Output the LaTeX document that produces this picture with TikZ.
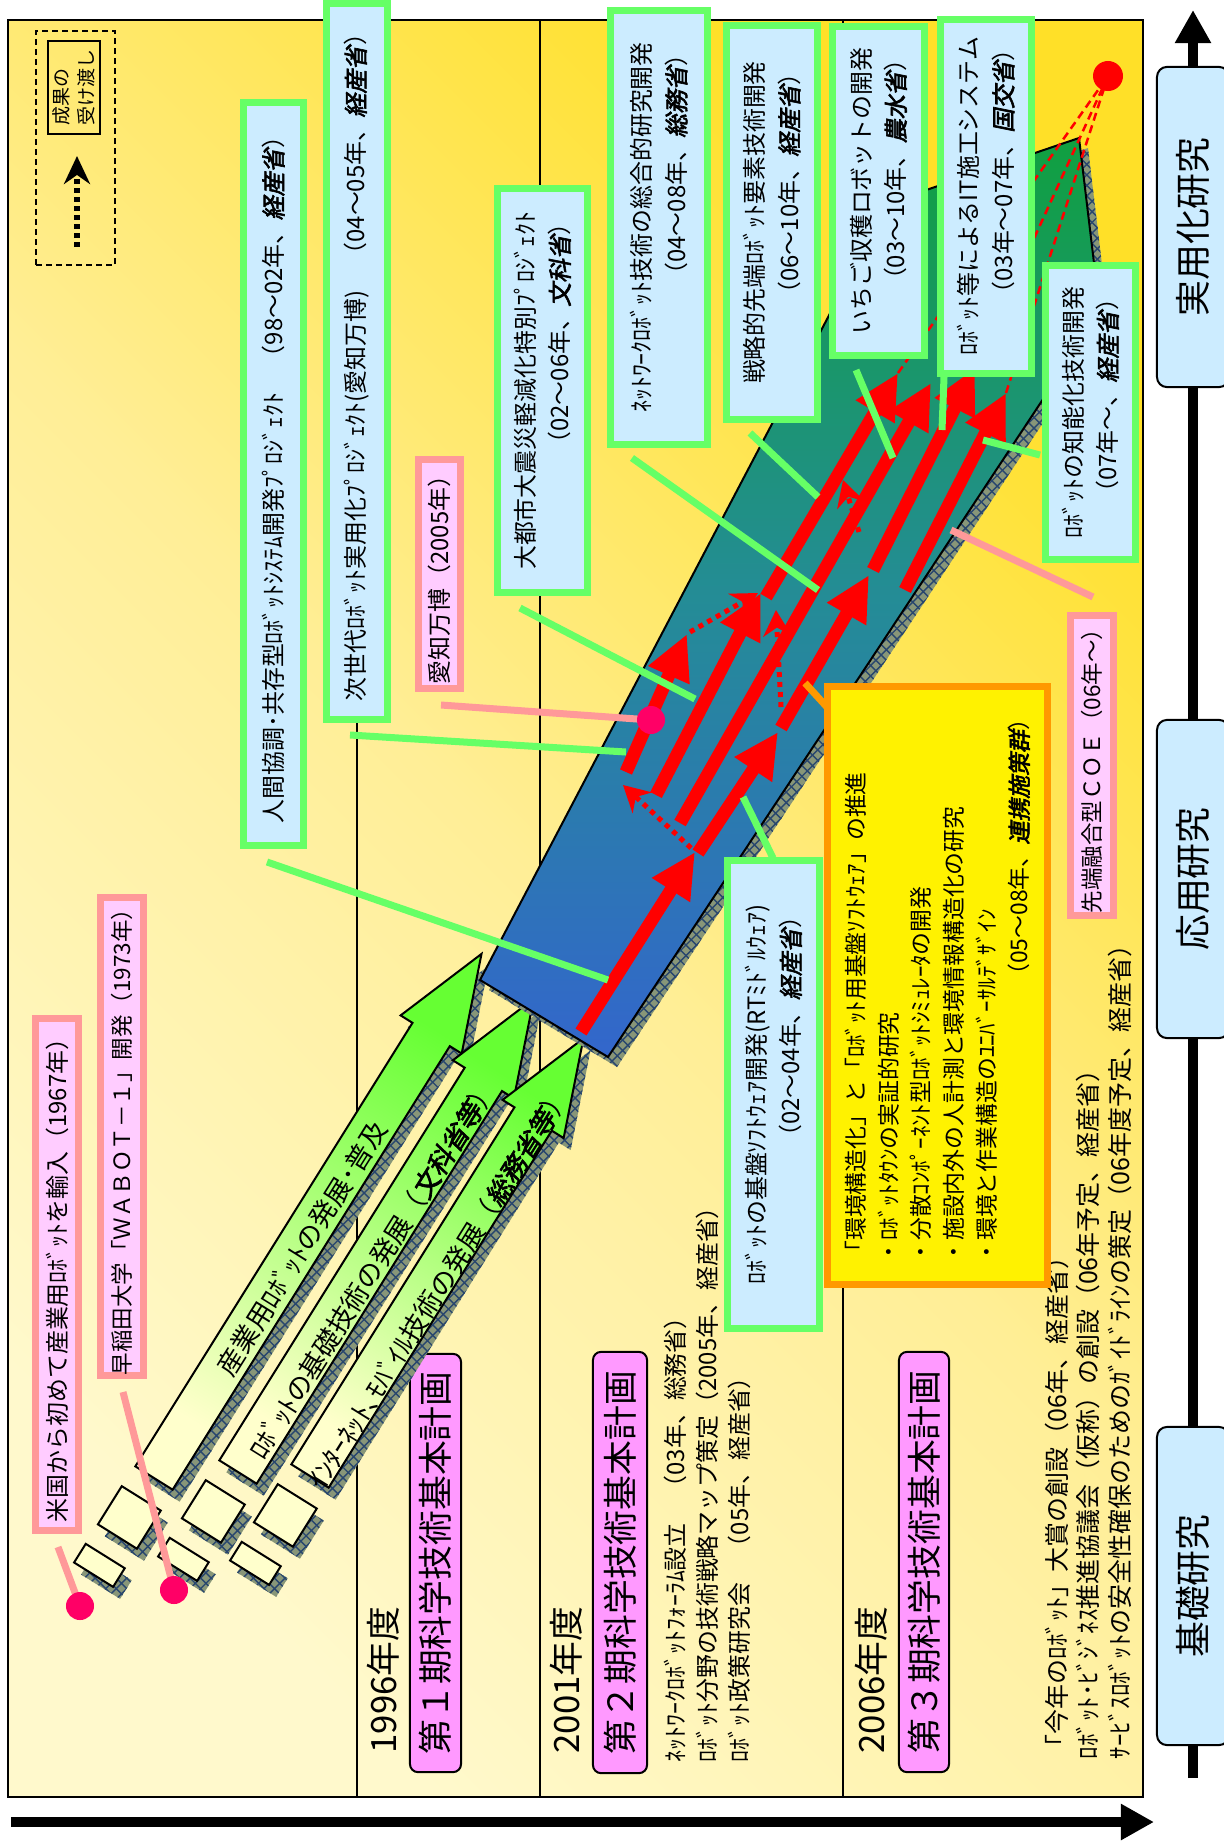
\documentclass[tikz,border=0pt]{standalone}
\usepackage{fontspec}
\setmainfont{Noto Sans CJK JP}
\newfontfamily\ministryfont{Noto Sans CJK JP}[FakeBold=2.5,FakeSlant=0.2]
\usetikzlibrary{arrows.meta,patterns}

\definecolor{boxgreen}{RGB}{102,255,102}
\definecolor{boxblue}{RGB}{204,236,255}
\definecolor{pinkfill}{RGB}{255,204,255}
\definecolor{pinkedge}{RGB}{255,153,153}
\definecolor{planpink}{RGB}{255,153,255}
\definecolor{dotred}{RGB}{255,0,102}
\definecolor{orangeedge}{RGB}{255,153,0}
\definecolor{bgcream}{RGB}{255,249,204}
\definecolor{bgmid}{RGB}{255,238,150}
\definecolor{bggold}{RGB}{255,224,40}
\definecolor{bandtop}{RGB}{16,160,64}
\definecolor{bandmid}{RGB}{36,140,150}
\definecolor{bandbot}{RGB}{51,102,204}
\definecolor{arrowtail}{RGB}{255,255,204}
\definecolor{arrowhead}{RGB}{102,255,51}
\definecolor{shadowfill}{RGB}{136,150,120}
\definecolor{shadowline}{RGB}{40,70,110}

\newcommand{\ministry}[1]{{\ministryfont #1}}
\newcommand{\fsbox}{\fontsize{6.8pt}{9.9pt}\selectfont}
\newcommand{\fspink}{\fontsize{6.4pt}{7pt}\selectfont}
\newcommand{\fspinkwide}{\fontsize{6.8pt}{7pt}\selectfont}
\newcommand{\fsorange}{\fontsize{6.5pt}{9.3pt}\selectfont}
\newcommand{\fsnote}{\fontsize{6.8pt}{9.1pt}\selectfont}
\newcommand{\fsnotewide}{\fontsize{7.1pt}{8.9pt}\selectfont}
\newcommand{\fsplan}{\fontsize{9.9pt}{11pt}\selectfont}
\newcommand{\fsstage}{\fontsize{10.2pt}{12pt}\selectfont}
\newcommand{\fsarrow}{\fontsize{7.6pt}{9pt}\selectfont}
\newcommand{\fslegend}{\fontsize{5.4pt}{7.1pt}\selectfont}

\begin{document}
\begin{tikzpicture}[x=0.01cm, y=-0.01cm,
  greenbox/.style={draw=boxgreen, line width=0.07cm, fill=boxblue, rotate=90, inner sep=0pt, align=right, font=\fsbox},
  pinkbox/.style={draw=pinkedge, line width=0.07cm, fill=pinkfill, rotate=90, inner sep=0pt, font=\fspink},
  planbox/.style={draw, line width=0.02cm, fill=planpink, rounded corners=0.08cm, rotate=90, inner sep=0pt, font=\fsplan},
  stagebox/.style={draw, line width=0.02cm, fill=boxblue, rounded corners=0.1cm, rotate=90, inner sep=0pt, font=\fsstage},
  yearlabel/.style={rotate=90, inner sep=0pt, font=\fsplan},
  note/.style={rotate=90, inner sep=0pt, anchor=west, align=left, font=\fsnote},
  arrowlabel/.style={rotate=58, inner sep=0pt, font=\fsarrow},
  pindot/.style={circle, fill=dotred, minimum size=0.28cm, inner sep=0pt},
  greenline/.style={draw=boxgreen, line width=0.07cm},
  pinkline/.style={draw=pinkedge, line width=0.07cm},
  orangeline/.style={draw=orangeedge, line width=0.07cm},
  redarrow/.style={draw=red, line width=0.13cm, -{Triangle[length=0.45cm,width=0.42cm]}},
  reddots/.style={draw=red, line width=0.05cm, dash pattern=on 0.05cm off 0.05cm, -{Stealth[length=0.26cm,width=0.28cm]}},
  reddash/.style={draw=red, line width=0.025cm, dash pattern=on 0.08cm off 0.05cm},
  hatch/.style={fill=shadowfill, postaction={pattern=crosshatch, pattern color=shadowline}},
  paper/.style={fill=arrowtail, draw, line width=0.02cm},
  axisarrow/.style={line width=0.10cm, -{Triangle[length=0.33cm,width=0.34cm]}}]
\useasboundingbox (0,0) rectangle (1223,1842);

% 背景と年度の区切り
\path[draw, line width=0.02cm, bottom color=bgcream, top color=bggold, middle color=bgmid, shading angle=-45] (8,20) rectangle (1143,1797);
\foreach \yx in {357,540,843}
  \draw[line width=0.02cm] (\yx,20) -- (\yx,1797);

% 凡例
\node[draw, dash pattern=on 0.06cm off 0.04cm, line width=0.02cm, minimum width=0.79cm, minimum height=2.34cm, inner sep=0pt] (legend) at (75.5,148) {};
\node[draw, line width=0.02cm, rotate=90, minimum width=0.93cm, minimum height=0.52cm, align=left, font=\fslegend, inner sep=0pt] (handoff) at (74,87.5) {成果の\\受け渡し};
\coordinate (legtail) at (77,247);
\coordinate (leghead) at (77,156);
\draw[line width=0.05cm, dash pattern=on 0.05cm off 0.04cm, -{Stealth[length=0.28cm,width=0.26cm]}] (legtail) -- (leghead);

% 年度と基本計画
\node[yearlabel] (y1996) at (383,1680) {1996年度};
\node[yearlabel] (y2001) at (566,1680) {2001年度};
\node[yearlabel] (y2006) at (871,1680) {2006年度};
\node[planbox, minimum width=4.18cm, minimum height=0.51cm] (plan1) at (435.5,1563) {第１期科学技術基本計画};
\node[planbox, minimum width=4.21cm, minimum height=0.54cm] (plan2) at (620,1562.5) {第２期科学技術基本計画};
\node[planbox, minimum width=4.20cm, minimum height=0.50cm] (plan3) at (924,1562) {第３期科学技術基本計画};
\node[note] (note2001) at (707.5,1763) {ﾈｯﾄﾜｰｸﾛﾎﾞｯﾄﾌｫｰﾗﾑ設立　（03年、総務省）\\ﾛﾎﾞｯﾄ分野の技術戦略マップ策定（2005年、経産省）\\ﾛﾎﾞｯﾄ政策研究会　（05年、経産省）};
\node[note, font=\fsnotewide] (note2006) at (1088.5,1760) {「今年のﾛﾎﾞｯﾄ」大賞の創設（06年、経産省）\\ﾛﾎﾞｯﾄ･ﾋﾞｼﾞﾈｽ推進協議会（仮称）の創設（06年予定、経産省）\\ｻｰﾋﾞｽﾛﾎﾞｯﾄの安全性確保のためのｶﾞｲﾄﾞﾗｲﾝの策定（06年度予定、経産省）};

% 緑の矢印（基礎技術の流れ）
\foreach \tx/\ty/\len in {154/1478/618, 238/1472/558, 310/1476/516}{
  \begin{scope}[shift={(\tx+7,\ty+12)}, rotate=58]
    \path[hatch] (0,-22) -- (\len-95,-22) -- (\len-95,-36) -- (\len,0) -- (\len-95,36) -- (\len-95,22) -- (0,22) -- cycle;
    \path[hatch] (-69,-23) rectangle (-24,23);
    \path[hatch] (-114,-23) rectangle (-92,23);
  \end{scope}
  \begin{scope}[shift={(\tx,\ty)}, rotate=58]
    \coordinate (a1) at (0,-22);
    \coordinate (a2) at (\len-95,-22);
    \coordinate (a3) at (\len-95,-36);
    \coordinate (a4) at (\len,0);
    \coordinate (a5) at (\len-95,36);
    \coordinate (a6) at (\len-95,22);
    \coordinate (a7) at (0,22);
    \path[paper] (-69,-23) rectangle (-24,23);
    \path[paper] (-114,-23) rectangle (-92,23);
  \end{scope}
  \path[draw, line width=0.02cm, bottom color=arrowtail, top color=arrowhead, shading angle=-32] (a1) -- (a2) -- (a3) -- (a4) -- (a5) -- (a6) -- (a7) -- cycle;
}
\node[arrowlabel] (lab-sangyo) at (302,1248) {産業用ﾛﾎﾞｯﾄの発展･普及};
\node[arrowlabel] (lab-kiso) at (373,1269) {ﾛﾎﾞｯﾄの基礎技術の発展（\ministry{文科省等}）};
\node[arrowlabel] (lab-net) at (439,1288) {ｲﾝﾀｰﾈｯﾄ､ﾓﾊﾞｲﾙ技術の発展（\ministry{総務省等}）};

% 実用化へ向かう帯
\path[hatch] (489,990) -- (897,213) -- (1088,148) -- (1109,323) -- (617,1067) -- cycle;
\coordinate (b1) at (480,980);
\coordinate (b2) at (888,203);
\coordinate (b3) at (1079,138);
\coordinate (b4) at (1100,313);
\coordinate (b5) at (608,1057);
\path[draw, line width=0.02cm, top color=bandtop, bottom color=bandbot, middle color=bandmid] (b1) -- (b2) -- (b3) -- (b4) -- (b5) -- cycle;

% 赤い矢印
\coordinate (r1s) at (581,1032); \coordinate (r1e) at (695,852);
\coordinate (ras) at (626,772);  \coordinate (rae) at (687,634);
\coordinate (rbs) at (656,795);  \coordinate (rbe) at (761,593);
\coordinate (rcs) at (680,823);  \coordinate (rce) at (931,383);
\coordinate (r4s) at (698,853);  \coordinate (r4e) at (778,732);
\coordinate (r5s) at (766,597);  \coordinate (r5e) at (898,373);
\coordinate (r6s) at (781,728);  \coordinate (r6e) at (869,575);
\coordinate (r7s) at (873,570);  \coordinate (r7e) at (975,368);
\coordinate (r8s) at (905,590);  \coordinate (r8e) at (1006,393);
\coordinate (goalc) at (1108,76);
\draw[reddash] (r5e) -- (goalc);
\draw[reddash] (r7e) -- (goalc);
\draw[reddash] (r8e) -- (goalc);
\foreach \s/\e in {r1s/r1e, ras/rae, rbs/rbe, rcs/rce, r4s/r4e, r5s/r5e, r6s/r6e, r7s/r7e, r8s/r8e}
  \draw[redarrow] (\s) -- (\e);
\coordinate (d1s) at (691,848); \coordinate (d1e) at (623,785);
\coordinate (d2s) at (690,632); \coordinate (d2e) at (758,593);
\coordinate (d3s) at (781,707); \coordinate (d3e) at (776,610);
\coordinate (d4s) at (859,532); \coordinate (d4e) at (843,480);
\foreach \s/\e in {d1s/d1e, d2s/d2e, d3s/d3e, d4s/d4e}
  \draw[reddots] (\s) -- (\e);
\node[circle, fill=red, minimum size=0.30cm, inner sep=0pt] (goal) at (goalc) {};

% 引き出し線
\coordinate (c1a) at (267,862);  \coordinate (c1b) at (608,980);
\coordinate (c2a) at (350,735);  \coordinate (c2b) at (626,752);
\coordinate (c3a) at (520,608);  \coordinate (c3b) at (695,699);
\coordinate (c4a) at (632,458);  \coordinate (c4b) at (818,590);
\coordinate (c5a) at (750,433);  \coordinate (c5b) at (818,497);
\coordinate (c6a) at (856,370);  \coordinate (c6b) at (893,458);
\coordinate (c7a) at (944,377);  \coordinate (c7b) at (942,430);
\coordinate (c8a) at (1040,455); \coordinate (c8b) at (983,440);
\coordinate (c9a) at (773,858);  \coordinate (c9b) at (743,797);
\foreach \s/\e in {c1a/c1b, c2a/c2b, c3a/c3b, c4a/c4b, c5a/c5b, c6a/c6b, c7a/c7b, c8a/c8b, c9a/c9b}
  \draw[greenline] (\s) -- (\e);
\coordinate (o1a) at (846,728); \coordinate (o1b) at (805,683);
\draw[orangeline] (o1a) -- (o1b);

% 出来事
\node[pinkbox, font=\fspinkwide, minimum width=5.12cm, minimum height=0.43cm] (beikoku) at (57,1274.5) {米国から初めて産業用ﾛﾎﾞｯﾄを輸入（1967年）};
\node[pinkbox, minimum width=4.74cm, minimum height=0.43cm] (waseda) at (122,1136.5) {早稲田大学「ＷＡＢＯＴ－１」開発（1973年）};
\node[pinkbox, font=\fspinkwide, minimum width=2.29cm, minimum height=0.42cm] (aichi) at (439.5,574) {愛知万博（2005年）};
\node[pinkbox, minimum width=3.00cm, minimum height=0.43cm] (coe) at (1092,765.5) {先端融合型ＣＯＥ（06年～）};
\coordinate (p1a) at (58,1547);
\coordinate (p2a) at (123,1392);
\coordinate (p3a) at (441,705);
\coordinate (p3b) at (651,720);
\coordinate (p4a) at (1093,597); \coordinate (p4b) at (951,530);
\draw[pinkline] (p1a) -- (80,1606);
\draw[pinkline] (p2a) -- (174,1590);
\draw[pinkline] (p3a) -- (p3b);
\draw[pinkline] (p4a) -- (p4b);
\node[pindot] (dot-beikoku) at (80,1606) {};
\node[pindot] (dot-waseda) at (174,1590) {};
\node[pindot] (dot-aichi) at (p3b) {};

% 施策のボックス
\node[greenbox, minimum width=7.43cm, minimum height=0.60cm] (ningen) at (273.5,474) {人間協調･共存型ﾛﾎﾞｯﾄｼｽﾃﾑ開発ﾌﾟﾛｼﾞｪｸﾄ　（98～02年、\ministry{経産省}）};
\node[greenbox, minimum width=7.16cm, minimum height=0.61cm] (jisedai) at (357,361.5) {次世代ﾛﾎﾞｯﾄ実用化ﾌﾟﾛｼﾞｪｸﾄ(愛知万博)　（04～05年、\ministry{経産省}）};
\node[greenbox, minimum width=4.04cm, minimum height=0.90cm] (daitoshi) at (542.5,390.5) {大都市大震災軽減化特別ﾌﾟﾛｼﾞｪｸﾄ\\（02～06年、\ministry{文科省}）};
\node[greenbox, minimum width=4.34cm, minimum height=0.97cm] (network) at (659,227.5) {ﾈｯﾄﾜｰｸﾛﾎﾞｯﾄ技術の総合的研究開発\\（04～08年、\ministry{総務省}）};
\node[greenbox, minimum width=3.94cm, minimum height=0.91cm] (senryaku) at (772,222.5) {戦略的先端ﾛﾎﾞｯﾄ要素技術開発\\（06～10年、\ministry{経産省}）};
\node[greenbox, minimum width=3.29cm, minimum height=0.92cm] (ichigo) at (878.5,191) {いちご収穫ロボットの開発\\（03～10年、\ministry{農水省}）};
\node[greenbox, minimum width=3.54cm, minimum height=0.91cm] (sekou) at (986,196.5) {ﾛﾎﾞｯﾄ等によるIT施工システム\\（03年～07年、\ministry{国交省}）};
\node[greenbox, minimum width=2.94cm, minimum height=0.90cm] (chinou) at (1090.5,412.5) {ﾛﾎﾞｯﾄの知能化技術開発\\（07年～、\ministry{経産省}）};
\node[greenbox, minimum width=4.68cm, minimum height=0.92cm] (kiban) at (773.5,1094.5) {ﾛﾎﾞｯﾄの基盤ｿﾌﾄｳｪｱ開発(RTﾐﾄﾞﾙｳｪｱ)\\（02～04年、\ministry{経産省}）};
\node[draw=orangeedge, line width=0.07cm, fill=yellow, rotate=90, minimum width=5.98cm, minimum height=2.20cm, text width=5.56cm, align=left, font=\fsorange, inner sep=0pt] (renkei) at (937.5,985.5) {「環境構造化」と「ﾛﾎﾞｯﾄ用基盤ｿﾌﾄｳｪｱ」の推進\\・ﾛﾎﾞｯﾄﾀｳﾝの実証的研究\\・分散ｺﾝﾎﾟｰﾈﾝﾄ型ﾛﾎﾞｯﾄｼﾐｭﾚｰﾀの開発\\・施設内外の人計測と環境情報構造化の研究\\・環境と作業構造のﾕﾆﾊﾞｰｻﾙﾃﾞｻﾞｲﾝ\\\hspace*{\fill}（05～08年、\ministry{連携施策群}）};

% 研究段階の軸
\coordinate (axbot) at (1193,1778);
\coordinate (axtop) at (1193,10);
\draw[axisarrow] (axbot) -- (axtop);
\coordinate (timel) at (11,1822);
\coordinate (timer) at (1154,1822);
\draw[axisarrow] (timel) -- (timer);
\node[stagebox, minimum width=3.20cm, minimum height=0.72cm] (jitsuyo) at (1193,227) {実用化研究};
\node[stagebox, minimum width=3.18cm, minimum height=0.72cm] (oyo) at (1193,879) {応用研究};
\node[stagebox, minimum width=3.18cm, minimum height=0.72cm] (kiso) at (1193,1586) {基礎研究};
\end{tikzpicture}
\end{document}
